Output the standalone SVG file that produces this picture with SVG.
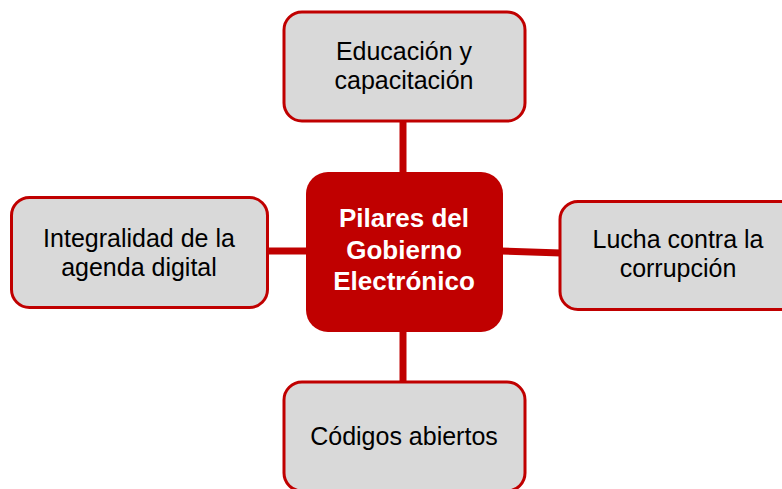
<svg xmlns="http://www.w3.org/2000/svg" width="782" height="489" viewBox="0 0 782 489">
<style>
.box{fill:#D9D9D9;stroke:#C00000;stroke-width:3}
.ctr{fill:#C00000}
.conn{stroke:#C00000;stroke-width:7;fill:none}
.t{font-family:"Liberation Sans",Arial,sans-serif;font-size:25px;fill:#000;text-anchor:middle}
.tc{font-family:"Liberation Sans",Arial,sans-serif;font-size:26px;font-weight:bold;fill:#fff;text-anchor:middle}
</style>
<rect width="782" height="489" fill="#fff"/>
<g id="connectors">
<line class="conn" x1="403" y1="121" x2="403" y2="174"/>
<line class="conn" x1="266" y1="251" x2="308" y2="251"/>
<line class="conn" x1="501" y1="251" x2="561" y2="253"/>
<line class="conn" x1="403" y1="330" x2="403" y2="383"/>
</g>
<g id="center">
<rect class="ctr" x="306" y="172" width="197" height="160" rx="22"/>
<text class="tc" x="404" y="227">Pilares del</text>
<text class="tc" x="404" y="259">Gobierno</text>
<text class="tc" x="404" y="290">Electrónico</text>
</g>
<g id="top">
<rect class="box" x="284" y="12" width="241" height="109" rx="18"/>
<text class="t" x="404" y="60">Educación y</text>
<text class="t" x="404" y="89">capacitación</text>
</g>
<g id="left">
<rect class="box" x="11.5" y="197.5" width="256" height="110" rx="18"/>
<text class="t" x="139" y="247">Integralidad de la</text>
<text class="t" x="139" y="276">agenda digital</text>
</g>
<g id="right">
<rect class="box" x="560" y="201.5" width="240" height="108" rx="18"/>
<text class="t" x="678" y="248">Lucha contra la</text>
<text class="t" x="678" y="277">corrupción</text>
</g>
<g id="bottom">
<rect class="box" x="284" y="382" width="241" height="109" rx="18"/>
<text class="t" x="404" y="445">Códigos abiertos</text>
</g>
</svg>
